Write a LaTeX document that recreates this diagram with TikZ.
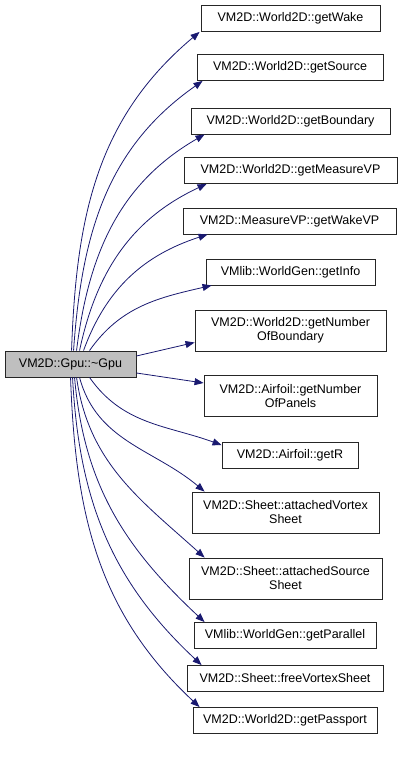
\documentclass[tikz,border=0pt]{standalone}
\usepackage{fontspec}
\setmainfont{Liberation Sans}
\usetikzlibrary{arrows.meta,calc}
\definecolor{edgeblue}{HTML}{191970}
\definecolor{rootgray}{HTML}{BFBFBF}
\begin{document}
\begin{tikzpicture}[x=1pt,y=1pt,
  fn/.style={draw=black!85, line width=0.9pt, inner sep=0pt, align=center,
    font=\fontsize{12.5}{14}\selectfont, minimum height=26pt},
  fntwo/.style={fn, minimum height=41pt},
  rootfn/.style={fn, fill=rootgray},
  call/.style={draw=edgeblue, line width=0.8pt, -{Triangle[length=9pt,width=7pt]}}]
\useasboundingbox (0,0) rectangle (403,757);
\node[rootfn, minimum width=131pt] (root) at (70.5,393) {VM2D::Gpu::\char`\~Gpu};
\node[fn, minimum width=179pt] (wake) at (290.5,738.5) {VM2D::World2D::getWake};
\node[fn, minimum width=186pt] (source) at (290,689.5) {VM2D::World2D::getSource};
\node[fn, minimum width=199pt] (boundary) at (290.5,636) {VM2D::World2D::getBoundary};
\node[fn, minimum width=213pt] (measure) at (290.5,586.5) {VM2D::World2D::getMeasureVP};
\node[fn, minimum width=213pt] (wakevp) at (289.5,536) {VM2D::MeasureVP::getWakeVP};
\node[fn, minimum width=169pt] (info) at (290.5,485) {VMlib::WorldGen::getInfo};
\node[fntwo, minimum width=191pt] (nob) at (290.5,426.5) {VM2D::World2D::getNumber\\OfBoundary};
\node[fntwo, minimum width=173pt] (nop) at (290.5,361) {VM2D::Airfoil::getNumber\\OfPanels};
\node[fn, minimum width=136pt] (getr) at (290,301.5) {VM2D::Airfoil::getR};
\node[fntwo, minimum width=187pt] (avs) at (285.5,244.5) {VM2D::Sheet::attachedVortex\\Sheet};
\node[fntwo, minimum width=193pt] (ass) at (285.5,178.5) {VM2D::Sheet::attachedSource\\Sheet};
\node[fn, minimum width=182pt] (par) at (285,121.5) {VMlib::WorldGen::getParallel};
\node[fn, minimum width=196pt] (fvs) at (285,78.5) {VM2D::Sheet::freeVortexSheet};
\node[fn, minimum width=184pt] (pass) at (285,36.5) {VM2D::World2D::getPassport};

\draw[call] ($(root.north west)+(67,0)$) to[out=88,in=220] ($(wake.south west)+(-1,0)$);
\draw[call] ($(root.north west)+(69,0)$) to[out=86,in=215] ($(source.south west)+(6,0)$);
\draw[call] ($(root.north west)+(72,0)$) to[out=83,in=210] ($(boundary.south west)+(14,0)$);
\draw[call] ($(root.north west)+(75,0)$) to[out=78,in=205] ($(measure.south west)+(23,0)$);
\draw[call] ($(root.north west)+(79,0)$) to[out=70,in=198] ($(wakevp.south west)+(25,0)$);
\draw[call] ($(root.north west)+(85,0)$) to[out=55,in=193] ($(info.south west)+(6,0)$);
\draw[call] ($(root.east)+(0,8)$) -- ($(nob.west)+(0,-12)$);
\draw[call] ($(root.east)+(0,-9)$) -- ($(nop.west)+(0,13)$);
\draw[call] ($(root.south west)+(85,0)$) to[out=-55,in=160] ($(getr.north west)+(0,-3)$);
\draw[call] ($(root.south west)+(75,0)$) to[out=-75,in=140] ($(avs.north west)+(13,0)$);
\draw[call] ($(root.south west)+(72,0)$) to[out=-82,in=138] ($(ass.north west)+(16,0)$);
\draw[call] ($(root.south west)+(70,0)$) to[out=-85,in=137] ($(par.north west)+(11,0)$);
\draw[call] ($(root.south west)+(68,0)$) to[out=-87,in=137] ($(fvs.north west)+(15,0)$);
\draw[call] ($(root.south west)+(66,0)$) to[out=-88,in=137] ($(pass.north west)+(7,0)$);
\end{tikzpicture}
\end{document}
